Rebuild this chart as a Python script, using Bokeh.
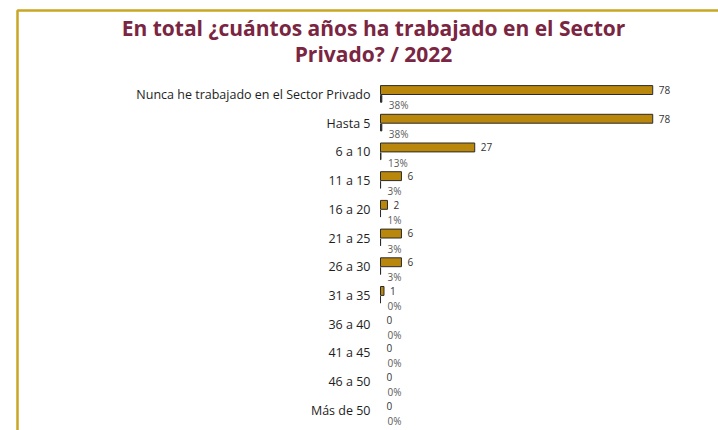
from bokeh.plotting import figure
from bokeh.models import ColumnDataSource, Range1d, Label, BoxAnnotation
from bokeh.transform import dodge
from bokeh.core.properties import value
from bokeh.embed import file_html
from bokeh.resources import INLINE

categories = ["Nunca he trabajado en el Sector Privado", "Hasta 5", "6 a 10", "11 a 15",
              "16 a 20", "21 a 25", "26 a 30", "31 a 35", "36 a 40", "41 a 45",
              "46 a 50", "Más de 50"]
counts = [78, 78, 27, 6, 2, 6, 6, 1, 0, 0, 0, 0]
percents = [38, 38, 13, 3, 1, 3, 3, 0, 0, 0, 0, 0]
title_lines = ["En total ¿cuántos años ha trabajado en el Sector", "Privado? / 2022"]

GOLD = "#b8870b"
EDGE = "#2b2b2b"
MAROON = "#7a2541"
FRAME_GOLD = "#c9a623"

# canvas layout (pixels)
W, H = 718, 430
X0, PXU = 380, 3.49      # pixel of zero value, pixels per unit
Y0, PYU = 94, 28.7       # pixel of first row, pixels per row

ys = list(range(len(categories)))
src = ColumnDataSource(dict(
    y=ys,
    cat=categories,
    cnt=counts,
    pct=[v / 100 for v in percents],
    cnt_lbl=[str(c) for c in counts],
    pct_lbl=[f"{v}%" for v in percents],
    edge=[EDGE if c > 0 else "rgba(0,0,0,0)" for c in counts],
))

p = figure(width=W, height=H,
           x_range=Range1d(-X0 / PXU, (W - X0) / PXU),
           y_range=Range1d((H - Y0) / PYU, -Y0 / PYU),
           output_backend="svg", toolbar_location=None,
           min_border=0)
p.outline_line_color = None
p.grid.visible = False
p.axis.visible = False

# category labels
p.text(x=0, y="y", text="cat", source=src, x_offset=-10,
       text_align="right", text_baseline="middle", text_font=value("Open Sans"),
       text_font_size="12.5px", text_color="#1e1e1e")

# count bars
p.hbar(y=dodge("y", -0.155), left=0, right="cnt", height=0.31, source=src,
       fill_color=GOLD, line_color="edge", line_width=1)
# percent bars (tiny)
p.hbar(y=dodge("y", 0.15), left=0, right="pct", height=0.24, source=src,
       fill_color=EDGE, line_color="edge", line_width=1)

p.text(x="cnt", y=dodge("y", -0.16), text="cnt_lbl", source=src, x_offset=6,
       text_baseline="middle", text_align="left", text_font=value("Open Sans"),
       text_font_size="10px", text_color="#333333")
p.text(x="pct", y=dodge("y", 0.37), text="pct_lbl", source=src, x_offset=7,
       text_baseline="middle", text_align="left", text_font=value("Open Sans"),
       text_font_size="10px", text_color="#5a5a5a")

for txt, base in zip(title_lines, [27, 53]):
    p.add_layout(Label(x=(373 - X0) / PXU, y=(base - Y0) / PYU, text=txt,
                       text_align="center", text_baseline="alphabetic",
                       text_font="Open Sans", text_font_style="bold",
                       text_font_size="21px", text_color=MAROON))

p.add_layout(BoxAnnotation(left=(17 - X0) / PXU, right=(W + 40 - X0) / PXU,
                           top=(10 - Y0) / PYU, bottom=(H + 40 - Y0) / PYU,
                           fill_color=None, line_color=FRAME_GOLD, line_alpha=1.0,
                           line_width=2.5))

open("out.html", "w").write(file_html(p, INLINE))
